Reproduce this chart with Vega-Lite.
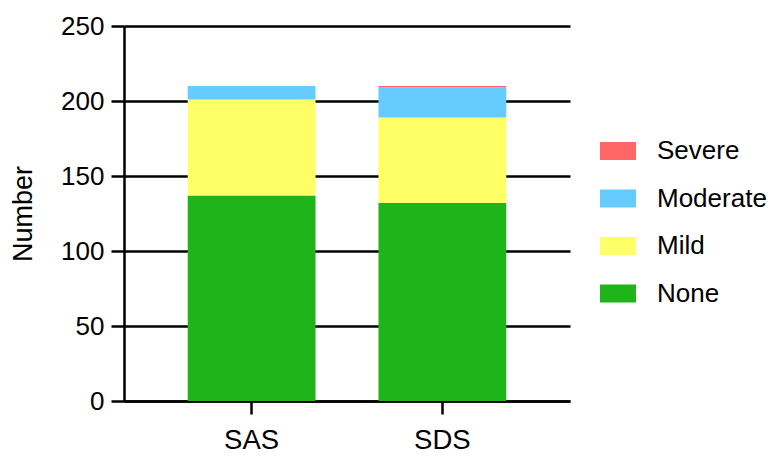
{
  "$schema": "https://vega.github.io/schema/vega-lite/v6.json",
  "width": 446,
  "height": 375,
  "autosize": {"type": "none"},
  "padding": {"left": 124, "top": 26, "right": 203, "bottom": 56},
  "background": "white",
  "data": {
    "values": [
      {"group": "SAS", "severity": "None", "rank": 1, "count": 137},
      {"group": "SAS", "severity": "Mild", "rank": 2, "count": 64},
      {"group": "SAS", "severity": "Moderate", "rank": 3, "count": 9},
      {"group": "SAS", "severity": "Severe", "rank": 4, "count": 0},
      {"group": "SDS", "severity": "None", "rank": 1, "count": 132},
      {"group": "SDS", "severity": "Mild", "rank": 2, "count": 57},
      {"group": "SDS", "severity": "Moderate", "rank": 3, "count": 20},
      {"group": "SDS", "severity": "Severe", "rank": 4, "count": 1}
    ]
  },
  "config": {
    "font": "Liberation Sans",
    "view": {"stroke": null}
  },
  "mark": {"type": "bar"},
  "encoding": {
    "x": {
      "field": "group",
      "type": "nominal",
      "scale": {"paddingInner": 0.33, "paddingOuter": 0.334},
      "axis": {
        "title": null,
        "labelAngle": 0,
        "labelFontSize": 27.5,
        "labelColor": "black",
        "labelPadding": 12,
        "domainColor": "black",
        "domainWidth": 2.5,
        "tickColor": "black",
        "tickWidth": 2.5,
        "tickSize": 13
      }
    },
    "y": {
      "field": "count",
      "type": "quantitative",
      "stack": "zero",
      "scale": {"domain": [0, 250], "nice": false},
      "axis": {
        "title": "Number",
        "titleFontSize": 27,
        "titleFontWeight": "normal",
        "titleColor": "black",
        "titlePadding": 23,
        "values": [0, 50, 100, 150, 200, 250],
        "labelFontSize": 26,
        "labelColor": "black",
        "labelPadding": 7,
        "domainColor": "black",
        "domainWidth": 2.5,
        "tickColor": "black",
        "tickWidth": 2.5,
        "tickSize": 13,
        "grid": true,
        "gridColor": "black",
        "gridWidth": 2.5,
        "gridOpacity": 1
      }
    },
    "color": {
      "field": "severity",
      "type": "nominal",
      "scale": {
        "domain": ["Severe", "Moderate", "Mild", "None"],
        "range": ["#FF6666", "#66CCFF", "#FFFF66", "#1FB51A"]
      },
      "legend": {
        "title": null,
        "orient": "none",
        "legendX": 476,
        "legendY": 107,
        "padding": 0,
        "symbolType": "M-1,-0.5H1V0.5H-1Z",
        "symbolSize": 1296,
        "symbolStrokeWidth": 0,
        "symbolOpacity": 1,
        "labelFontSize": 26,
        "labelColor": "black",
        "labelOffset": 21,
        "rowPadding": 16.5
      }
    },
    "order": {"field": "rank", "type": "quantitative", "sort": "ascending"}
  }
}
